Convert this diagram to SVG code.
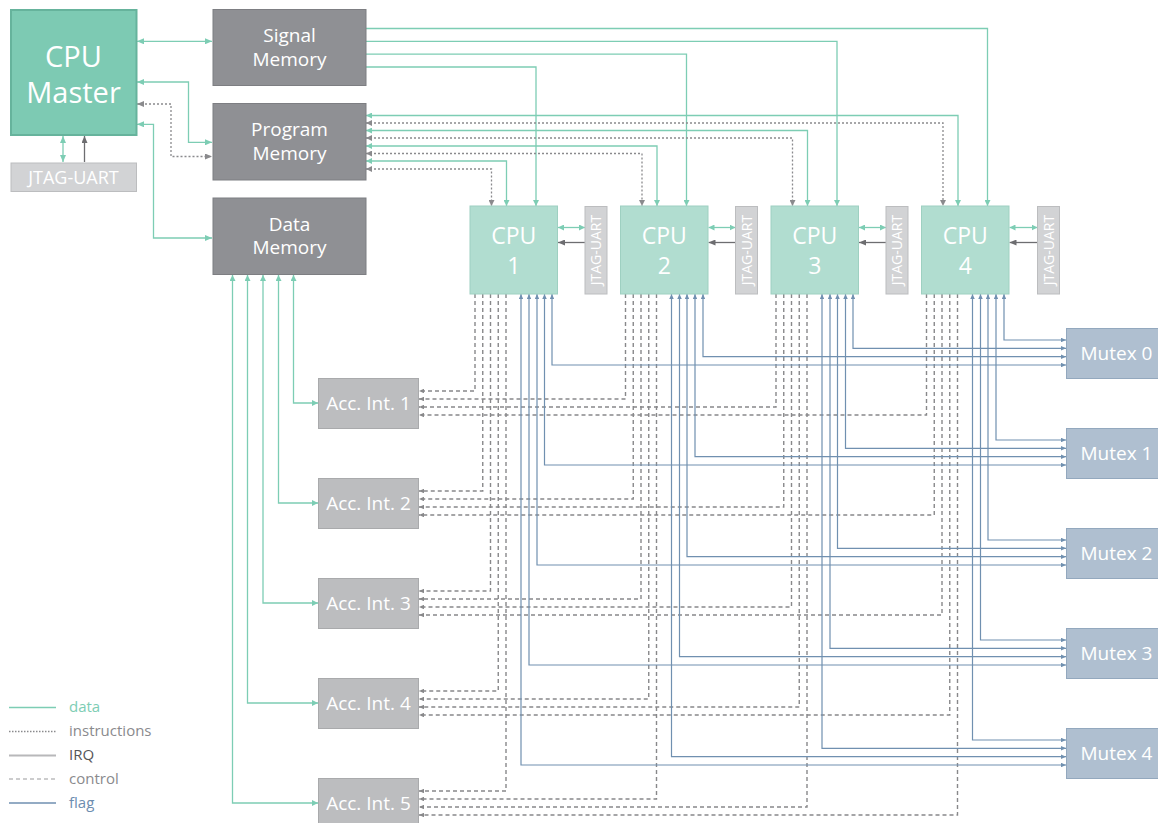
<svg xmlns="http://www.w3.org/2000/svg" width="1158" height="823" viewBox="0 0 1158 823">
<style>
text{font-family:"Open Sans","Liberation Sans",sans-serif;fill:#fff;text-anchor:middle}
.d{stroke:#7dcdb4;fill:none;stroke-width:1.3}
.i{stroke:#8a8a8d;fill:none;stroke-width:1.3;stroke-dasharray:2 2}
.q{stroke:#6d6d70;fill:none;stroke-width:1.3}
.c{stroke:#88888a;fill:none;stroke-width:1.4;stroke-dasharray:4 3}
.f{stroke:#7090b0;fill:none;stroke-width:1.2}
.m{fill:#7dcab3;stroke:#66b39c;stroke-width:2}
.mem{fill:#8f9094;stroke:#7d7e82;stroke-width:1}
.cpu{fill:#b1ddd0;stroke:#9ed0c1;stroke-width:1}
.jt{fill:#d2d3d5;stroke:#bcbdbf;stroke-width:1}
.acc{fill:#bcbdbf;stroke:#a9aaac;stroke-width:1}
.mx{fill:#afbfd0;stroke:#93a8be;stroke-width:1}
</style>
<defs>
<marker id="adL" viewBox="0 0 7 6" refX="7" refY="3" markerWidth="7" markerHeight="6" markerUnits="userSpaceOnUse" orient="auto-start-reverse"><path d="M0,0L7,3L0,6z" fill="#7dcdb4"/></marker>
<marker id="aiL" viewBox="0 0 7 6" refX="7" refY="3" markerWidth="7" markerHeight="6" markerUnits="userSpaceOnUse" orient="auto-start-reverse"><path d="M0,0L7,3L0,6z" fill="#8a8a8d"/></marker>
<marker id="ad" viewBox="0 0 6 6" refX="6" refY="3" markerWidth="6" markerHeight="6" markerUnits="userSpaceOnUse" orient="auto-start-reverse"><path d="M0,0L6,3L0,6z" fill="#7dcdb4"/></marker>
<marker id="ai" viewBox="0 0 6 6" refX="6" refY="3" markerWidth="6" markerHeight="6" markerUnits="userSpaceOnUse" orient="auto-start-reverse"><path d="M0,0L6,3L0,6z" fill="#8a8a8d"/></marker>
<marker id="aq" viewBox="0 0 7 6" refX="7" refY="3" markerWidth="7" markerHeight="6" markerUnits="userSpaceOnUse" orient="auto-start-reverse"><path d="M0,0L7,3L0,6z" fill="#6d6d70"/></marker>
<marker id="ac" viewBox="0 0 5 4.5" refX="5" refY="2.25" markerWidth="5" markerHeight="4.5" markerUnits="userSpaceOnUse" orient="auto-start-reverse"><path d="M0,0L5,2.25L0,4.5z" fill="#88888a"/></marker>
<marker id="af" viewBox="0 0 5 4.5" refX="5" refY="2.25" markerWidth="5" markerHeight="4.5" markerUnits="userSpaceOnUse" orient="auto-start-reverse"><path d="M0,0L5,2.25L0,4.5z" fill="#7090b0"/></marker>
</defs>

<g id="connectors">
<!-- master links -->
<path class="d" d="M137 41.3H212" marker-start="url(#adL)" marker-end="url(#adL)"/>
<path class="d" d="M137 82H188.5V142.3H212" marker-start="url(#adL)" marker-end="url(#adL)"/>
<path class="i" d="M137 104H171V156.5H212" marker-start="url(#aiL)" marker-end="url(#aiL)"/>
<path class="d" d="M137 124.3H153.5V238H212" marker-start="url(#adL)" marker-end="url(#adL)"/>
<path class="d" d="M63 136V162" marker-start="url(#adL)" marker-end="url(#adL)"/>
<path class="q" d="M84.5 162V136" marker-end="url(#aq)"/>
<!-- signal memory -->
<path class="d" d="M366 28.5H987.5V206" marker-end="url(#ad)"/>
<path class="d" d="M366 41.3H837V206" marker-end="url(#ad)"/>
<path class="d" d="M366 54.2H686.5V206" marker-end="url(#ad)"/>
<path class="d" d="M366 67H536V206" marker-end="url(#ad)"/>
<!-- program memory -->
<path class="d" d="M366 115.5H958V206" marker-start="url(#ad)" marker-end="url(#ad)"/>
<path class="i" d="M366 123H943V206" marker-start="url(#ai)" marker-end="url(#ai)"/>
<path class="d" d="M366 130.5H807.5V206" marker-start="url(#ad)" marker-end="url(#ad)"/>
<path class="i" d="M366 138H792.5V206" marker-start="url(#ai)" marker-end="url(#ai)"/>
<path class="d" d="M366 146H657V206" marker-start="url(#ad)" marker-end="url(#ad)"/>
<path class="i" d="M366 153.5H642V206" marker-start="url(#ai)" marker-end="url(#ai)"/>
<path class="d" d="M366 161H506.5V206" marker-start="url(#ad)" marker-end="url(#ad)"/>
<path class="i" d="M366 169H491.5V206" marker-start="url(#ai)" marker-end="url(#ai)"/>
<!-- data memory -->
<path class="d" d="M293.5 275V403H318" marker-start="url(#ad)" marker-end="url(#ad)"/>
<path class="d" d="M278.5 275V503H318" marker-start="url(#ad)" marker-end="url(#ad)"/>
<path class="d" d="M263 275V603H318" marker-start="url(#ad)" marker-end="url(#ad)"/>
<path class="d" d="M247.5 275V703H318" marker-start="url(#ad)" marker-end="url(#ad)"/>
<path class="d" d="M232.5 275V803H318" marker-start="url(#ad)" marker-end="url(#ad)"/>
<!-- cpu jtag -->
<path class="d" d="M558 227.5H585" marker-start="url(#ad)" marker-end="url(#ad)"/>
<path class="q" d="M585 242.5H558" marker-end="url(#aq)"/>
<path class="d" d="M708.5 227.5H735.5" marker-start="url(#ad)" marker-end="url(#ad)"/>
<path class="q" d="M735.5 242.5H708.5" marker-end="url(#aq)"/>
<path class="d" d="M859 227.5H886" marker-start="url(#ad)" marker-end="url(#ad)"/>
<path class="q" d="M886 242.5H859" marker-end="url(#aq)"/>
<path class="d" d="M1009.5 227.5H1037.5" marker-start="url(#ad)" marker-end="url(#ad)"/>
<path class="q" d="M1037.5 242.5H1009.5" marker-end="url(#aq)"/>
<!-- control -->
<g marker-end="url(#ac)">
<path class="c" d="M475 294V391H419"/>
<path class="c" d="M625.5 294V399H419"/>
<path class="c" d="M776 294V407H419"/>
<path class="c" d="M926.5 294V415H419"/>
<path class="c" d="M482.75 294V491H419"/>
<path class="c" d="M633.25 294V499H419"/>
<path class="c" d="M783.75 294V507H419"/>
<path class="c" d="M934.25 294V515H419"/>
<path class="c" d="M490.5 294V591H419"/>
<path class="c" d="M641 294V599H419"/>
<path class="c" d="M791.5 294V607H419"/>
<path class="c" d="M942 294V615H419"/>
<path class="c" d="M498.25 294V691H419"/>
<path class="c" d="M648.75 294V699H419"/>
<path class="c" d="M799.25 294V707H419"/>
<path class="c" d="M949.75 294V715H419"/>
<path class="c" d="M506 294V791H419"/>
<path class="c" d="M656.5 294V799H419"/>
<path class="c" d="M807 294V807H419"/>
<path class="c" d="M957.5 294V815H419"/>
</g>
<!-- flag -->
<g marker-start="url(#af)" marker-end="url(#af)">
<path class="f" d="M552 294V365H1066"/>
<path class="f" d="M703 294V356.7H1066"/>
<path class="f" d="M853 294V348.3H1066"/>
<path class="f" d="M1004 294V340H1066"/>
<path class="f" d="M544.5 294V465H1066"/>
<path class="f" d="M695 294V456.7H1066"/>
<path class="f" d="M845.5 294V448.3H1066"/>
<path class="f" d="M996 294V440H1066"/>
<path class="f" d="M537 294V565H1066"/>
<path class="f" d="M687 294V556.7H1066"/>
<path class="f" d="M837.5 294V548.3H1066"/>
<path class="f" d="M988 294V540H1066"/>
<path class="f" d="M529 294V665H1066"/>
<path class="f" d="M679.5 294V656.7H1066"/>
<path class="f" d="M830 294V648.3H1066"/>
<path class="f" d="M980.5 294V640H1066"/>
<path class="f" d="M521 294V765H1066"/>
<path class="f" d="M671.5 294V756.7H1066"/>
<path class="f" d="M822 294V748.3H1066"/>
<path class="f" d="M972.5 294V740H1066"/>
</g>
</g>

<g id="cpu-master"><rect class="m" x="11" y="10" width="125.5" height="125"/><text x="73.5" y="66.5" font-size="29">CPU</text><text x="73.5" y="103" font-size="29">Master</text></g>
<g id="jtag-master"><rect class="jt" x="11" y="163" width="125.5" height="28.5"/><text x="73.5" y="184" font-size="18">JTAG-UART</text></g>
<g id="signal-memory"><rect class="mem" x="213" y="9.5" width="153" height="76"/><text x="289.5" y="41.5" font-size="19">Signal</text><text x="289.5" y="65.5" font-size="19">Memory</text></g>
<g id="program-memory"><rect class="mem" x="213" y="103.5" width="153" height="76.5"/><text x="289.5" y="136" font-size="19">Program</text><text x="289.5" y="159.5" font-size="19">Memory</text></g>
<g id="data-memory"><rect class="mem" x="213" y="198" width="153" height="76.5"/><text x="289.5" y="230.5" font-size="19">Data</text><text x="289.5" y="254" font-size="19">Memory</text></g>

<g id="cpu1"><rect class="cpu" x="470" y="206" width="87.5" height="88"/><text x="513.75" y="244" font-size="23">CPU</text><text x="513.75" y="274" font-size="23">1</text></g>
<g id="jtag1"><rect class="jt" x="585" y="206.5" width="22" height="87.5"/><text transform="translate(596 250) rotate(-90)" y="5" font-size="14">JTAG-UART</text></g>
<g id="cpu2"><rect class="cpu" x="620.5" y="206" width="87.5" height="88"/><text x="664.25" y="244" font-size="23">CPU</text><text x="664.25" y="274" font-size="23">2</text></g>
<g id="jtag2"><rect class="jt" x="735.5" y="206.5" width="22" height="87.5"/><text transform="translate(746.5 250) rotate(-90)" y="5" font-size="14">JTAG-UART</text></g>
<g id="cpu3"><rect class="cpu" x="771" y="206" width="87.5" height="88"/><text x="814.75" y="244" font-size="23">CPU</text><text x="814.75" y="274" font-size="23">3</text></g>
<g id="jtag3"><rect class="jt" x="886" y="206.5" width="22" height="87.5"/><text transform="translate(897 250) rotate(-90)" y="5" font-size="14">JTAG-UART</text></g>
<g id="cpu4"><rect class="cpu" x="921.5" y="206" width="87.5" height="88"/><text x="965.25" y="244" font-size="23">CPU</text><text x="965.25" y="274" font-size="23">4</text></g>
<g id="jtag4"><rect class="jt" x="1037.5" y="206.5" width="22" height="87.5"/><text transform="translate(1048.5 250) rotate(-90)" y="5" font-size="14">JTAG-UART</text></g>

<g id="acc1"><rect class="acc" x="318.5" y="378.5" width="100" height="50"/><text x="368.5" y="410" font-size="19">Acc. Int. 1</text></g>
<g id="acc2"><rect class="acc" x="318.5" y="478.5" width="100" height="50"/><text x="368.5" y="510" font-size="19">Acc. Int. 2</text></g>
<g id="acc3"><rect class="acc" x="318.5" y="578.5" width="100" height="50"/><text x="368.5" y="610" font-size="19">Acc. Int. 3</text></g>
<g id="acc4"><rect class="acc" x="318.5" y="678.5" width="100" height="50"/><text x="368.5" y="710" font-size="19">Acc. Int. 4</text></g>
<g id="acc5"><rect class="acc" x="318.5" y="778.5" width="100" height="50"/><text x="368.5" y="810" font-size="19">Acc. Int. 5</text></g>

<g id="mutex0"><rect class="mx" x="1066.5" y="328.5" width="100" height="50"/><text x="1116.5" y="360" font-size="19">Mutex 0</text></g>
<g id="mutex1"><rect class="mx" x="1066.5" y="428.5" width="100" height="50"/><text x="1116.5" y="460" font-size="19">Mutex 1</text></g>
<g id="mutex2"><rect class="mx" x="1066.5" y="528.5" width="100" height="50"/><text x="1116.5" y="560" font-size="19">Mutex 2</text></g>
<g id="mutex3"><rect class="mx" x="1066.5" y="628.5" width="100" height="50"/><text x="1116.5" y="660" font-size="19">Mutex 3</text></g>
<g id="mutex4"><rect class="mx" x="1066.5" y="728.5" width="100" height="50"/><text x="1116.5" y="760" font-size="19">Mutex 4</text></g>

<g id="legend" font-size="15">
<path d="M9 707.5H56" stroke="#7dcdb4" stroke-width="1.3"/>
<path d="M9 731.5H56" stroke="#8a8a8d" stroke-width="1.3" stroke-dasharray="1.5 1.5"/>
<path d="M9 755.5H56" stroke="#b8b8ba" stroke-width="2"/>
<path d="M9 779H56" stroke="#9a9a9c" stroke-width="1.2" stroke-dasharray="4 3"/>
<path d="M9 803H56" stroke="#6f8fb0" stroke-width="1.3"/>
<text x="69" y="712" style="text-anchor:start;fill:#7dcdb4">data</text>
<text x="69" y="736" style="text-anchor:start;fill:#8a8a8d">instructions</text>
<text x="69" y="760" style="text-anchor:start;fill:#555558">IRQ</text>
<text x="69" y="783.5" style="text-anchor:start;fill:#8a8a8d">control</text>
<text x="69" y="807.5" style="text-anchor:start;fill:#6c8db0">flag</text>
</g>
</svg>
